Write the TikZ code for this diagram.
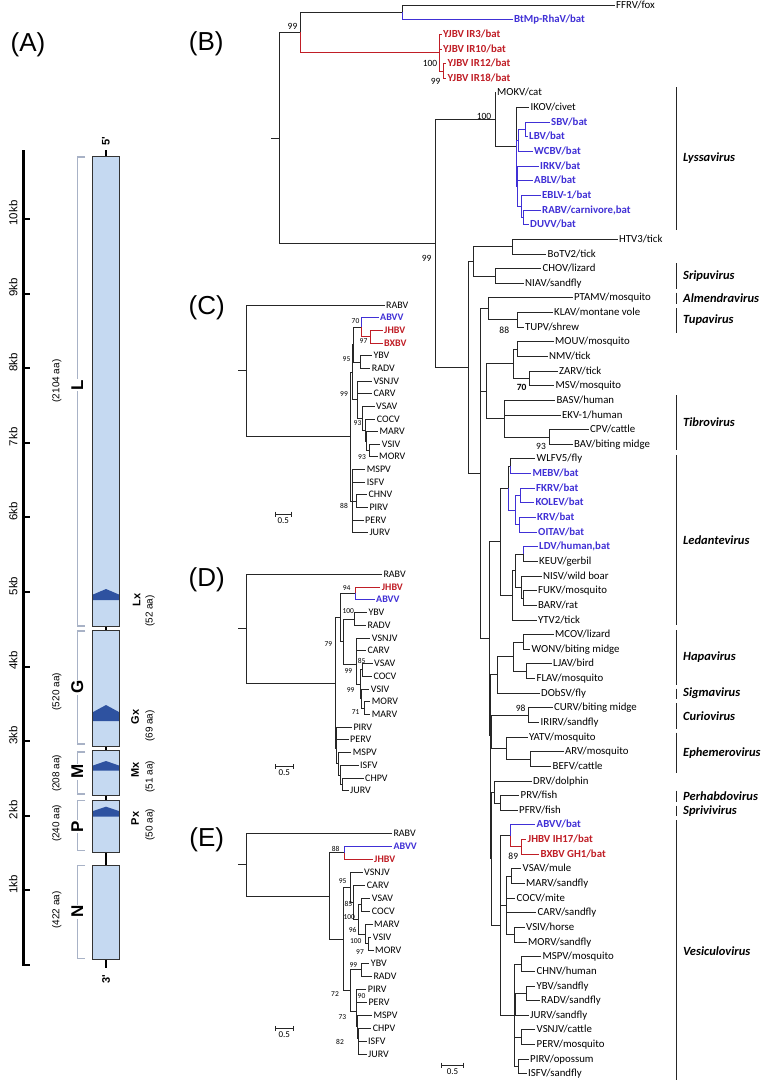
\documentclass[tikz,border=0pt]{standalone}
\usepackage{fontspec}
\setmainfont{Carlito}
\newfontfamily\arialfont{Liberation Sans}
\usepackage{tikz}
\usetikzlibrary{positioning}
\definecolor{batBlue}{RGB}{64,48,214}
\definecolor{newRed}{RGB}{192,30,38}
\definecolor{geneFill}{RGB}{197,217,241}
\definecolor{geneDark}{RGB}{46,82,160}
\definecolor{braceGray}{RGB}{168,178,198}
\newcommand{\tipB}{\fontsize{10.8}{12}\selectfont}
\newcommand{\tipS}{\fontsize{10}{11}\selectfont}

\begin{document}
\begin{tikzpicture}[
  x=1pt, y=-1pt,
  br/.style={line width=0.7pt, color=black!85},
  tip/.style={anchor=west, inner xsep=1.5pt, inner ysep=0pt,
    text height=0.62em, text depth=0pt, font=\tipB},
  tipsm/.style={tip, font=\tipS},
  batB/.style={text=batBlue, font=\tipB\bfseries},
  newB/.style={text=newRed, font=\tipB\bfseries},
  batS/.style={text=batBlue, font=\tipS\bfseries},
  newS/.style={text=newRed, font=\tipS\bfseries},
  boot/.style={inner sep=0pt, font=\fontsize{9.5}{10}\selectfont},
  bootsm/.style={inner sep=0pt, font=\fontsize{7.5}{8}\selectfont},
  clade/.style={anchor=west, inner sep=0pt,
    font=\fontsize{12.5}{14}\selectfont\bfseries\itshape},
  cbar/.style={line width=0.8pt, color=black!85},
  scaletxt/.style={inner sep=0pt, font=\fontsize{9}{10}\selectfont},
  panel/.style={inner sep=0pt, font=\arialfont\fontsize{26}{28}\selectfont},
  gene/.style={rectangle, draw=black!80, line width=0.8pt, fill=geneFill,
    inner sep=0pt, minimum width=26.6pt},
  genebrace/.style={draw=braceGray, line width=1.2pt},
  kb/.style={rotate=90, inner sep=0pt, font=\arialfont\fontsize{11.5}{12}\selectfont},
  aa/.style={rotate=90, inner sep=0pt, font=\arialfont\fontsize{10}{11}\selectfont},
  gname/.style={rotate=90, fill=white, inner sep=1pt,
    font=\arialfont\bfseries\fontsize{17}{18}\selectfont},
  xname/.style={rotate=90, inner sep=0pt,
    font=\arialfont\bfseries\fontsize{11}{12}\selectfont}
]
\useasboundingbox (0,0) rectangle (765,1082);
\fill[white] (0,0) rectangle (765,1082);

% ---------------- panel labels
\node[panel] (pA) at (28,45) {(A)};
\node[panel] (pB) at (206.3,43.3) {(B)};
\node[panel] (pC) at (206.7,308) {(C)};
\node[panel] (pD) at (206.7,580) {(D)};
\node[panel] (pE) at (206.7,840) {(E)};

% ---------------- (A) genome map
\draw[line width=2.6pt] (23.3,150) -- (23.3,965) -- (30,965);
\foreach \k in {1,...,10} {
  \draw[line width=2pt] (23.3,{965-74.6*\k}) -- (30,{965-74.6*\k});
  \node[kb] (kb\k) at (13.3,{959-74.6*\k}) {\k kb};
}
\draw[line width=2.6pt] (106,150) -- (106,968);
\node[xname] (five) at (106,141) {5'};
\node[xname] (three) at (106,979) {3'};

\node[gene, minimum height=470pt] (geneL) at (106,391.7) {};
\node[gene, minimum height=116.7pt] (geneG) at (106,688.35) {};
\node[gene, minimum height=44.3pt] (geneM) at (106,772.85) {};
\node[gene, minimum height=52.7pt] (geneP) at (106,826.35) {};
\node[gene, minimum height=94.3pt] (geneN) at (106,912.15) {};

% small ORFs
\fill[geneDark] (93.1,600) -- (93.1,594.5) -- (106,589) -- (118.9,594.5) -- (118.9,600) -- cycle;
\fill[geneDark] (93.1,721) -- (93.1,712) -- (106,705) -- (118.9,712) -- (118.9,721) -- cycle;
\fill[geneDark] (93.1,770.7) -- (93.1,765.5) -- (106,761) -- (118.9,765.5) -- (118.9,770.7) -- cycle;
\fill[geneDark] (93.1,816.7) -- (93.1,811) -- (106,806.7) -- (118.9,811) -- (118.9,816.7) -- cycle;

% brackets and gene names
\draw[genebrace] (85,157) -- (77.3,157) -- (77.3,626) -- (85,626);
\draw[genebrace] (85,631) -- (77.3,631) -- (77.3,744) -- (85,744);
\draw[genebrace] (85,752) -- (77.3,752) -- (77.3,794) -- (85,794);
\draw[genebrace] (85,800.5) -- (77.3,800.5) -- (77.3,850.7) -- (85,850.7);
\draw[genebrace] (85,865.7) -- (77.3,865.7) -- (77.3,958.3) -- (85,958.3);
\node[gname] (nmL) at (77.3,385) {L};
\node[gname] (nmG) at (77.3,687.3) {G};
\node[gname] (nmM) at (77.3,771.7) {M};
\node[gname] (nmP) at (77.3,826.7) {P};
\node[gname] (nmN) at (77.3,911.7) {N};
\node[aa] (aaL) at (56.7,381) {(2104 aa)};
\node[aa] (aaG) at (56.7,691.7) {(520 aa)};
\node[aa] (aaM) at (56.7,773.3) {(208 aa)};
\node[aa] (aaP) at (56.7,823.3) {(240 aa)};
\node[aa] (aaN) at (56.7,910) {(422 aa)};
\node[xname] (lx) at (136.7,600) {Lx};
\node[xname] (gx) at (135,716.7) {Gx};
\node[xname] (mx) at (135,770) {Mx};
\node[xname] (px) at (135,818.5) {Px};
\node[aa] (aaLx) at (150,611) {(52 aa)};
\node[aa] (aaGx) at (150,726) {(69 aa)};
\node[aa] (aaMx) at (150,776.7) {(51 aa)};
\node[aa] (aaPx) at (150,824.5) {(50 aa)};

% ---------------- (B) tips
\node[tip] (ffrv) at (614.5,5.0) {FFRV/fox};
\node[tip,batB] (btmp) at (512.5,19.6) {BtMp-RhaV/bat};
\node[tip,newB] (ir3) at (441.5,34.3) {YJBV IR3/bat};
\node[tip,newB] (ir10) at (441.5,48.9) {YJBV IR10/bat};
\node[tip,newB] (ir12) at (446,63.6) {YJBV IR12/bat};
\node[tip,newB] (ir18) at (446,78.2) {YJBV IR18/bat};
\node[tip] (mokv) at (495.5,92.8) {MOKV/cat};
\node[tip] (ikov) at (529,107.5) {IKOV/civet};
\node[tip,batB] (sbv) at (549.5,122.1) {SBV/bat};
\node[tip,batB] (lbv) at (527.5,136.8) {LBV/bat};
\node[tip,batB] (wcbv) at (532.5,151.4) {WCBV/bat};
\node[tip,batB] (irkv) at (538.5,166.0) {IRKV/bat};
\node[tip,batB] (ablv) at (532.5,180.7) {ABLV/bat};
\node[tip,batB] (eblv) at (540.5,195.3) {EBLV-1/bat};
\node[tip,batB] (rabv) at (540.5,210.0) {RABV/carnivore,bat};
\node[tip,batB] (duvv) at (528.5,224.6) {DUVV/bat};
\node[tip] (htv) at (617.5,239.2) {HTV3/tick};
\node[tip] (botv) at (546,253.9) {BoTV2/tick};
\node[tip] (chov) at (541,268.5) {CHOV/lizard};
\node[tip] (niav) at (523.5,283.2) {NIAV/sandfly};
\node[tip] (ptamv) at (572.5,297.8) {PTAMV/mosquito};
\node[tip] (klav) at (552.5,312.4) {KLAV/montane vole};
\node[tip] (tupv) at (523.5,327.1) {TUPV/shrew};
\node[tip] (mouv) at (553.5,341.7) {MOUV/mosquito};
\node[tip] (nmv) at (547.5,356.4) {NMV/tick};
\node[tip] (zarv) at (557.5,371.0) {ZARV/tick};
\node[tip] (msv) at (554,385.6) {MSV/mosquito};
\node[tip] (basv) at (555,400.3) {BASV/human};
\node[tip] (ekv) at (560.5,414.9) {EKV-1/human};
\node[tip] (cpv) at (588.5,429.6) {CPV/cattle};
\node[tip] (bav) at (572.5,444.2) {BAV/biting midge};
\node[tip] (wlfv) at (535,458.8) {WLFV5/fly};
\node[tip,batB] (mebv) at (531,473.5) {MEBV/bat};
\node[tip,batB] (fkrv) at (534.5,488.1) {FKRV/bat};
\node[tip,batB] (kolev) at (534,502.8) {KOLEV/bat};
\node[tip,batB] (krv) at (535.5,517.4) {KRV/bat};
\node[tip,batB] (oitav) at (536.5,532.0) {OITAV/bat};
\node[tip,batB] (ldv) at (537.5,546.7) {LDV/human,bat};
\node[tip] (keuv) at (537.5,561.3) {KEUV/gerbil};
\node[tip] (nisv) at (541.5,576.0) {NISV/wild boar};
\node[tip] (fukv) at (536.5,590.6) {FUKV/mosquito};
\node[tip] (barv) at (536.5,605.2) {BARV/rat};
\node[tip] (ytv) at (536.5,619.9) {YTV2/tick};
\node[tip] (mcov) at (553.5,634.5) {MCOV/lizard};
\node[tip] (wonv) at (530,649.2) {WONV/biting midge};
\node[tip] (ljav) at (551.5,663.8) {LJAV/bird};
\node[tip] (flav) at (535,678.4) {FLAV/mosquito};
\node[tip] (dobsv) at (539.5,693.1) {DObSV/fly};
\node[tip] (curv) at (552.5,707.7) {CURV/biting midge};
\node[tip] (irirv) at (539,722.4) {IRIRV/sandfly};
\node[tip] (yatv) at (527.5,737.0) {YATV/mosquito};
\node[tip] (arv) at (563.5,751.6) {ARV/mosquito};
\node[tip] (befv) at (551,766.3) {BEFV/cattle};
\node[tip] (drv) at (531.5,780.9) {DRV/dolphin};
\node[tip] (prv) at (519,795.6) {PRV/fish};
\node[tip] (pfrv) at (517.5,810.2) {PFRV/fish};
\node[tip,batB] (abvv) at (535,824.8) {ABVV/bat};
\node[tip,newB] (jhbv) at (526,839.5) {JHBV IH17/bat};
\node[tip,newB] (bxbv) at (539,854.1) {BXBV GH1/bat};
\node[tip] (vsav) at (521,868.8) {VSAV/mule};
\node[tip] (marv) at (524.5,883.4) {MARV/sandfly};
\node[tip] (cocv) at (515,898.0) {COCV/mite};
\node[tip] (carv) at (536,912.7) {CARV/sandfly};
\node[tip] (vsiv) at (524.5,927.3) {VSIV/horse};
\node[tip] (morv) at (526.5,942.0) {MORV/sandfly};
\node[tip] (mspv) at (541,956.6) {MSPV/mosquito};
\node[tip] (chnv) at (535,971.2) {CHNV/human};
\node[tip] (ybv) at (535,985.9) {YBV/sandfly};
\node[tip] (radv) at (539.5,1000.5) {RADV/sandfly};
\node[tip] (jurv) at (528.5,1015.2) {JURV/sandfly};
\node[tip] (vsnjv) at (535,1029.8) {VSNJV/cattle};
\node[tip] (perv) at (535,1044.4) {PERV/mosquito};
\node[tip] (pirv) at (528.5,1059.1) {PIRV/opossum};
\node[tip] (isfv) at (526.5,1073.7) {ISFV/sandfly};

% ---------------- (B) inner nodes
\coordinate (nRoot) at (279,138);
\coordinate (nOut) at (300,32.45);
\coordinate (nFB) at (402,12.3);
\coordinate (nYJ) at (439,52.6);
\coordinate (nYJ2) at (443,70.9);
\coordinate (nB1) at (435,243.6);
\coordinate (nMO) at (495,119.8);
\coordinate (nIK) at (516,146.8);
\coordinate (nSW) at (518,140.4);
\coordinate (nSL) at (525,129.45);
\coordinate (nIR) at (517,186.15);
\coordinate (nEB) at (521,206.3);
\coordinate (nRD) at (523,217.3);
\coordinate (nB2) at (468,367.4);
\coordinate (nB3) at (473,261.2);
\coordinate (nHB) at (512,246.55);
\coordinate (nCN) at (495,275.85);
\coordinate (nB4) at (480,473.55);
\coordinate (nPT) at (488,308.8);
\coordinate (nKT) at (517,319.75);
\coordinate (nQ) at (486,391.15);
\coordinate (nMZ) at (513,363.7);
\coordinate (nMN) at (517,349.05);
\coordinate (nZM) at (529,378.3);
\coordinate (nTib) at (504,418.6);
\coordinate (nCB) at (549,436.9);
\coordinate (nR) at (489,638.3);
\coordinate (nLed) at (500,541.65);
\coordinate (nL12) at (508,488.1);
\coordinate (nWM) at (510,466.15);
\coordinate (nFKO) at (515,510.1);
\coordinate (nFK) at (520,495.45);
\coordinate (nKO) at (519,524.7);
\coordinate (nL3) at (512.7,595.2);
\coordinate (nLN) at (515,570.5);
\coordinate (nLK) at (523,554.0);
\coordinate (nNF) at (521,586.95);
\coordinate (nFB2) at (523,597.9);
\coordinate (nS3) at (490,734.95);
\coordinate (nHS) at (497.7,674.8);
\coordinate (nHap) at (513,656.5);
\coordinate (nMW) at (523,641.85);
\coordinate (nLF) at (526,671.1);
\coordinate (nS2) at (490.7,795.1);
\coordinate (nCY) at (491.7,731.5);
\coordinate (nCI) at (528.3,715.05);
\coordinate (nYA) at (506.7,747.98);
\coordinate (nAB) at (530.7,758.95);
\coordinate (nS1) at (491.5,858.7);
\coordinate (nDP) at (494.3,791.9);
\coordinate (nPP) at (500.7,802.9);
\coordinate (nVes) at (500,925.5);
\coordinate (nAJ) at (510,835.8);
\coordinate (nJB) at (521.7,846.8);
\coordinate (nV1) at (506,905.4);
\coordinate (nVM) at (511,876.1);
\coordinate (nVMo) at (514.3,934.65);
\coordinate (nW) at (514.3,1015.15);
\coordinate (nMC) at (521.7,963.9);
\coordinate (nYRJ) at (515.7,1004.2);
\coordinate (nYR) at (526.7,993.2);
\coordinate (nVP) at (521.7,1037.1);
\coordinate (nPI) at (518.3,1066.4);
\coordinate (rootB) at (271,138);

% ---------------- (B) branches
\draw[br] (rootB) -- (nRoot);
\foreach \c in {nOut,nB1} \draw[br] (nRoot) |- (\c);
\draw[br] (nOut) |- (nFB);
\draw[br,newRed] (nOut) |- (nYJ);
\draw[br] (nFB) |- (ffrv.west);
\draw[br,batBlue] (nFB) |- (btmp.west);
\foreach \c in {ir3.west,ir10.west,nYJ2} \draw[br,newRed] (nYJ) |- (\c);
\foreach \c in {ir12.west,ir18.west} \draw[br,newRed] (nYJ2) |- (\c);
% Lyssavirus
\foreach \c in {nMO,nB2} \draw[br] (nB1) |- (\c);
\foreach \c in {mokv.west,nIK} \draw[br] (nMO) |- (\c);
\draw[br] (nIK) |- (ikov.west);
\foreach \c in {nSW,nIR} \draw[br,batBlue] (nIK) |- (\c);
\foreach \c in {nSL,wcbv.west} \draw[br,batBlue] (nSW) |- (\c);
\foreach \c in {sbv.west,lbv.west} \draw[br,batBlue] (nSL) |- (\c);
\foreach \c in {irkv.west,ablv.west,nEB} \draw[br,batBlue] (nIR) |- (\c);
\foreach \c in {eblv.west,nRD} \draw[br,batBlue] (nEB) |- (\c);
\foreach \c in {rabv.west,duvv.west} \draw[br,batBlue] (nRD) |- (\c);
% upper dimarhabdoviruses
\foreach \c in {nB3,nB4} \draw[br] (nB2) |- (\c);
\foreach \c in {nHB,nCN} \draw[br] (nB3) |- (\c);
\foreach \c in {htv.west,botv.west} \draw[br] (nHB) |- (\c);
\foreach \c in {chov.west,niav.west} \draw[br] (nCN) |- (\c);
\foreach \c in {nPT,nQ,nR} \draw[br] (nB4) |- (\c);
\foreach \c in {ptamv.west,nKT} \draw[br] (nPT) |- (\c);
\foreach \c in {klav.west,tupv.west} \draw[br] (nKT) |- (\c);
\foreach \c in {nMZ,nTib} \draw[br] (nQ) |- (\c);
\foreach \c in {nMN,nZM} \draw[br] (nMZ) |- (\c);
\foreach \c in {mouv.west,nmv.west} \draw[br] (nMN) |- (\c);
\foreach \c in {zarv.west,msv.west} \draw[br] (nZM) |- (\c);
\foreach \c in {basv.west,ekv.west,nCB} \draw[br] (nTib) |- (\c);
\foreach \c in {cpv.west,bav.west} \draw[br] (nCB) |- (\c);
% Ledantevirus
\foreach \c in {nLed,nS3} \draw[br] (nR) |- (\c);
\foreach \c in {nL12,nL3} \draw[br] (nLed) |- (\c);
\draw[br] (nL12) |- (nWM);
\draw[br,batBlue] (nL12) |- (nFKO);
\draw[br] (nWM) |- (wlfv.west);
\draw[br,batBlue] (nWM) |- (mebv.west);
\foreach \c in {nFK,nKO} \draw[br,batBlue] (nFKO) |- (\c);
\foreach \c in {fkrv.west,kolev.west} \draw[br,batBlue] (nFK) |- (\c);
\foreach \c in {krv.west,oitav.west} \draw[br,batBlue] (nKO) |- (\c);
\foreach \c in {nLN,ytv.west} \draw[br] (nL3) |- (\c);
\foreach \c in {nLK,nNF} \draw[br] (nLN) |- (\c);
\draw[br,batBlue] (nLK) |- (ldv.west);
\draw[br] (nLK) |- (keuv.west);
\foreach \c in {nisv.west,nFB2} \draw[br] (nNF) |- (\c);
\foreach \c in {fukv.west,barv.west} \draw[br] (nFB2) |- (\c);
% Hapavirus to Sprivivirus
\foreach \c in {nHS,nS2} \draw[br] (nS3) |- (\c);
\foreach \c in {nHap,dobsv.west} \draw[br] (nHS) |- (\c);
\foreach \c in {nMW,nLF} \draw[br] (nHap) |- (\c);
\foreach \c in {mcov.west,wonv.west} \draw[br] (nMW) |- (\c);
\foreach \c in {ljav.west,flav.west} \draw[br] (nLF) |- (\c);
\foreach \c in {nCY,nS1} \draw[br] (nS2) |- (\c);
\foreach \c in {nCI,nYA} \draw[br] (nCY) |- (\c);
\foreach \c in {curv.west,irirv.west} \draw[br] (nCI) |- (\c);
\foreach \c in {yatv.west,nAB} \draw[br] (nYA) |- (\c);
\foreach \c in {arv.west,befv.west} \draw[br] (nAB) |- (\c);
\foreach \c in {nDP,nVes} \draw[br] (nS1) |- (\c);
\foreach \c in {drv.west,nPP} \draw[br] (nDP) |- (\c);
\foreach \c in {prv.west,pfrv.west} \draw[br] (nPP) |- (\c);
% Vesiculovirus
\foreach \c in {nAJ,nV1,nW} \draw[br] (nVes) |- (\c);
\draw[br,batBlue] (nAJ) |- (abvv.west);
\draw[br,newRed] (nAJ) |- (nJB);
\foreach \c in {jhbv.west,bxbv.west} \draw[br,newRed] (nJB) |- (\c);
\foreach \c in {nVM,cocv.west,carv.west,nVMo} \draw[br] (nV1) |- (\c);
\foreach \c in {vsav.west,marv.west} \draw[br] (nVM) |- (\c);
\foreach \c in {vsiv.west,morv.west} \draw[br] (nVMo) |- (\c);
\foreach \c in {nMC,nYRJ,nVP,nPI} \draw[br] (nW) |- (\c);
\foreach \c in {mspv.west,chnv.west} \draw[br] (nMC) |- (\c);
\foreach \c in {nYR,jurv.west} \draw[br] (nYRJ) |- (\c);
\foreach \c in {ybv.west,radv.west} \draw[br] (nYR) |- (\c);
\foreach \c in {vsnjv.west,perv.west} \draw[br] (nVP) |- (\c);
\foreach \c in {pirv.west,isfv.west} \draw[br] (nPI) |- (\c);

% (B) bootstrap values
\node[boot] (bsB1) at (292.5,26) {99};
\node[boot] (bsB2) at (430,63.3) {100};
\node[boot] (bsB3) at (435.6,81) {99};
\node[boot] (bsB4) at (484,116.7) {100};
\node[boot] (bsB5) at (426.7,258.3) {99};
\node[boot] (bsB6) at (504.3,330) {88};
\node[boot,font=\fontsize{9.5}{10}\selectfont\bfseries] (bsB7) at (521.7,387.3) {70};
\node[boot] (bsB8) at (541,446.7) {93};
\node[boot] (bsB9) at (520.7,708.3) {98};
\node[boot] (bsB10) at (513.3,856.7) {89};

% (B) genus brackets
\foreach \ya/\yb/\yl/\nm/\txt in {
    87/230/158/gLys/Lyssavirus,
    263.3/289.3/276/gSri/Sripuvirus,
    292.5/304/298/gAlm/Almendravirus,
    308.3/333.3/320/gTup/Tupavirus,
    395/450/422.3/gTib/Tibrovirus,
    455/625/540/gLed/Ledantevirus,
    630/685/656.7/gHap/Hapavirus,
    688.5/698.5/693.3/gSig/Sigmavirus,
    703.3/729.3/716/gCur/Curiovirus,
    732.7/773.3/752.7/gEph/Ephemerovirus,
    790.7/801.7/796/gPer/Perhabdovirus,
    805.7/816/810.7/gSpr/Sprivivirus,
    820/1080/950.7/gVes/Vesiculovirus} {
  \draw[cbar] (676,\ya) -- (676,\yb);
  \node[clade] (\nm) at (683,\yl) {\txt};
}

% (B) scale bar
\coordinate (sbB) at (452.5,1065);
\draw[br] (441.7,1062.5) -- (441.7,1067.5) (441.7,1065) -- (463.3,1065) (463.3,1062.5) -- (463.3,1067.5);
\node[scaletxt, below=3pt of sbB] (sB) {0.5};

% ---------------- (C) G protein tree
\node[tipsm] (cRabv) at (384.5,305.0) {RABV};
\node[tipsm,batS] (cAbvv) at (378.5,317.6) {ABVV};
\node[tipsm,newS] (cJhbv) at (382.5,330.3) {JHBV};
\node[tipsm,newS] (cBxbv) at (382.5,343.0) {BXBV};
\node[tipsm] (cYbv) at (371.8,355.6) {YBV};
\node[tipsm] (cRadv) at (370.2,368.3) {RADV};
\node[tipsm] (cVsnjv) at (371.8,380.9) {VSNJV};
\node[tipsm] (cCarv) at (371.8,393.6) {CARV};
\node[tipsm] (cVsav) at (374.5,406.2) {VSAV};
\node[tipsm] (cCocv) at (375.2,418.9) {COCV};
\node[tipsm] (cMarv) at (377.8,431.5) {MARV};
\node[tipsm] (cVsiv) at (380.2,444.2) {VSIV};
\node[tipsm] (cMorv) at (377.5,456.8) {MORV};
\node[tipsm] (cMspv) at (365.2,469.5) {MSPV};
\node[tipsm] (cIsfv) at (365.2,482.1) {ISFV};
\node[tipsm] (cChnv) at (366.8,494.8) {CHNV};
\node[tipsm] (cPirv) at (367.8,507.4) {PIRV};
\node[tipsm] (cPerv) at (363.5,520.1) {PERV};
\node[tipsm] (cJurv) at (367.8,532.7) {JURV};

\coordinate (cRoot) at (246,370.8);
\coordinate (c3) at (350.7,436.55);
\coordinate (c2) at (352,372);
\coordinate (c1) at (353.3,344.5);
\coordinate (cAJ) at (361.7,327.1);
\coordinate (cJB) at (370,336.65);
\coordinate (cYR) at (360,361.95);
\coordinate (cCA) at (357.7,399.5);
\coordinate (cVS) at (362.7,418.1);
\coordinate (cCO) at (365,429.95);
\coordinate (cMA) at (366,441);
\coordinate (cVM) at (369.3,450.5);
\coordinate (cMJ) at (352.7,501.1);
\coordinate (cCP) at (356.7,501.1);
\coordinate (rootC) at (238.3,370.8);

\draw[br] (rootC) -- (cRoot);
\foreach \c in {cRabv.west,c3} \draw[br] (cRoot) |- (\c);
\foreach \c in {c2,cMJ} \draw[br] (c3) |- (\c);
\foreach \c in {c1,cCA} \draw[br] (c2) |- (\c);
\foreach \c in {cAJ,cYR} \draw[br] (c1) |- (\c);
\draw[br,batBlue] (cAJ) |- (cAbvv.west);
\draw[br,newRed] (cAJ) |- (cJB);
\foreach \c in {cJhbv.west,cBxbv.west} \draw[br,newRed] (cJB) |- (\c);
\foreach \c in {cYbv.west,cRadv.west} \draw[br] (cYR) |- (\c);
\foreach \c in {cVsnjv.west,cCarv.west,cVS} \draw[br] (cCA) |- (\c);
\foreach \c in {cVsav.west,cCO} \draw[br] (cVS) |- (\c);
\foreach \c in {cCocv.west,cMA} \draw[br] (cCO) |- (\c);
\foreach \c in {cMarv.west,cVM} \draw[br] (cMA) |- (\c);
\foreach \c in {cVsiv.west,cMorv.west} \draw[br] (cVM) |- (\c);
\foreach \c in {cMspv.west,cIsfv.west,cCP,cPerv.west,cJurv.west} \draw[br] (cMJ) |- (\c);
\foreach \c in {cChnv.west,cPirv.west} \draw[br] (cCP) |- (\c);

\node[bootsm] (bsC1) at (355.5,321) {70};
\node[bootsm] (bsC2) at (363.5,341.5) {97};
\node[bootsm] (bsC3) at (346.5,359.5) {95};
\node[bootsm] (bsC4) at (344,394) {99};
\node[bootsm] (bsC5) at (357.5,423.5) {93};
\node[bootsm] (bsC6) at (362,457) {93};
\node[bootsm] (bsC7) at (344,506) {88};

\coordinate (sbC) at (283.3,514);
\draw[br] (275,511.5) -- (275,516.5) (275,514) -- (291.7,514) (291.7,511.5) -- (291.7,516.5);
\node[scaletxt, below=3pt of sbC] (sC) {0.5};

% ---------------- (D) M protein tree
\node[tipsm] (dRabv) at (381.8,574.3) {RABV};
\node[tipsm,newS] (dJhbv) at (380.2,587.0) {JHBV};
\node[tipsm,batS] (dAbvv) at (374.5,599.8) {ABVV};
\node[tipsm] (dYbv) at (366.8,612.5) {YBV};
\node[tipsm] (dRadv) at (365.8,625.2) {RADV};
\node[tipsm] (dVsnjv) at (370.2,638.0) {VSNJV};
\node[tipsm] (dCarv) at (365.8,650.7) {CARV};
\node[tipsm] (dVsav) at (372.5,663.4) {VSAV};
\node[tipsm] (dCocv) at (371.8,676.2) {COCV};
\node[tipsm] (dVsiv) at (369.2,688.9) {VSIV};
\node[tipsm] (dMorv) at (370.2,701.6) {MORV};
\node[tipsm] (dMarv) at (370.2,714.4) {MARV};
\node[tipsm] (dPirv) at (351.8,727.1) {PIRV};
\node[tipsm] (dPerv) at (348.5,739.8) {PERV};
\node[tipsm] (dMspv) at (351.2,752.6) {MSPV};
\node[tipsm] (dIsfv) at (358.5,765.3) {ISFV};
\node[tipsm] (dChpv) at (363.5,778.0) {CHPV};
\node[tipsm] (dJurv) at (348.5,790.8) {JURV};

\coordinate (dRoot) at (246,628.65);
\coordinate (dIn) at (335,683);
\coordinate (dUp) at (340.7,617.45);
\coordinate (dJA) at (355,593.4);
\coordinate (dY) at (343.3,641.5);
\coordinate (dYR) at (354,618.85);
\coordinate (dCS) at (356,664.2);
\coordinate (dVC) at (356.7,644.35);
\coordinate (dSV) at (360.3,684.1);
\coordinate (dSC) at (362.7,669.8);
\coordinate (dVI) at (361.7,698.45);
\coordinate (dMM) at (364,708);
\coordinate (dLow) at (336,748.6);
\coordinate (dPP) at (336.7,733.45);
\coordinate (dMI) at (338.7,763.7);
\coordinate (dIC) at (340,774.85);
\coordinate (dCJ) at (342.7,784.4);
\coordinate (rootD) at (238.3,628.65);

\draw[br] (rootD) -- (dRoot);
\foreach \c in {dRabv.west,dIn} \draw[br] (dRoot) |- (\c);
\foreach \c in {dUp,dLow} \draw[br] (dIn) |- (\c);
\foreach \c in {dJA,dY} \draw[br] (dUp) |- (\c);
\draw[br,newRed] (dJA) |- (dJhbv.west);
\draw[br,batBlue] (dJA) |- (dAbvv.west);
\foreach \c in {dYR,dCS} \draw[br] (dY) |- (\c);
\foreach \c in {dYbv.west,dRadv.west} \draw[br] (dYR) |- (\c);
\foreach \c in {dVC,dSV} \draw[br] (dCS) |- (\c);
\foreach \c in {dVsnjv.west,dCarv.west} \draw[br] (dVC) |- (\c);
\foreach \c in {dSC,dVI} \draw[br] (dSV) |- (\c);
\foreach \c in {dVsav.west,dCocv.west} \draw[br] (dSC) |- (\c);
\foreach \c in {dVsiv.west,dMM} \draw[br] (dVI) |- (\c);
\foreach \c in {dMorv.west,dMarv.west} \draw[br] (dMM) |- (\c);
\foreach \c in {dPP,dMI} \draw[br] (dLow) |- (\c);
\foreach \c in {dPirv.west,dPerv.west} \draw[br] (dPP) |- (\c);
\foreach \c in {dMspv.west,dIC} \draw[br] (dMI) |- (\c);
\foreach \c in {dIsfv.west,dCJ} \draw[br] (dIC) |- (\c);
\foreach \c in {dChpv.west,dJurv.west} \draw[br] (dCJ) |- (\c);

\node[bootsm] (bsD1) at (346.7,588.3) {94};
\node[bootsm] (bsD2) at (348.3,610.7) {100};
\node[bootsm] (bsD3) at (328.3,644) {79};
\node[bootsm] (bsD4) at (361.7,660.7) {85};
\node[bootsm] (bsD5) at (348.3,670.7) {99};
\node[bootsm] (bsD6) at (350.7,690) {99};
\node[bootsm] (bsD7) at (355.7,711.7) {71};

\coordinate (sbD) at (284.2,766.7);
\draw[br] (275,764.2) -- (275,769.2) (275,766.7) -- (293.3,766.7) (293.3,764.2) -- (293.3,769.2);
\node[scaletxt, below=3pt of sbD] (sD) {0.5};

% ---------------- (E) N protein tree
\node[tipsm] (eRabv) at (391.8,833.3) {RABV};
\node[tipsm,batS] (eAbvv) at (391.8,846.3) {ABVV};
\node[tipsm,newS] (eJhbv) at (372.5,859.3) {JHBV};
\node[tipsm] (eVsnjv) at (362.5,872.3) {VSNJV};
\node[tipsm] (eCarv) at (365.2,885.3) {CARV};
\node[tipsm] (eVsav) at (370.2,898.3) {VSAV};
\node[tipsm] (eCocv) at (370.2,911.3) {COCV};
\node[tipsm] (eMarv) at (372.5,924.3) {MARV};
\node[tipsm] (eVsiv) at (371.2,937.3) {VSIV};
\node[tipsm] (eMorv) at (373.5,950.3) {MORV};
\node[tipsm] (eYbv) at (369.2,963.3) {YBV};
\node[tipsm] (eRadv) at (371.8,976.3) {RADV};
\node[tipsm] (ePirv) at (366.2,989.3) {PIRV};
\node[tipsm] (ePerv) at (366.8,1002.3) {PERV};
\node[tipsm] (eMspv) at (371.8,1015.3) {MSPV};
\node[tipsm] (eChpv) at (371.2,1028.3) {CHPV};
\node[tipsm] (eIsfv) at (366.5,1041.3) {ISFV};
\node[tipsm] (eJurv) at (366.5,1054.3) {JURV};

\coordinate (eRoot) at (246,864.6);
\coordinate (eIn) at (329,895.85);
\coordinate (eAJ) at (344.3,852.8);
\coordinate (eG1) at (343.3,938.9);
\coordinate (eVS) at (350,887.3);
\coordinate (eCA) at (353.5,902.35);
\coordinate (eX) at (358.5,919.4);
\coordinate (eVC) at (361.7,904.8);
\coordinate (eMA) at (365.5,934.05);
\coordinate (eVM) at (368.3,943.8);
\coordinate (eG2) at (350,990.5);
\coordinate (eYR) at (361.7,969.8);
\coordinate (eG3) at (356,1011.25);
\coordinate (ePP) at (356.7,995.8);
\coordinate (eMC) at (357.5,1026.7);
\coordinate (eCJ) at (358,1038.05);
\coordinate (eIJ) at (358.5,1047.8);
\coordinate (rootE) at (238.3,864.6);

\draw[br] (rootE) -- (eRoot);
\foreach \c in {eRabv.west,eIn} \draw[br] (eRoot) |- (\c);
\foreach \c in {eAJ,eG1} \draw[br] (eIn) |- (\c);
\draw[br,batBlue] (eAJ) |- (eAbvv.west);
\draw[br,newRed] (eAJ) |- (eJhbv.west);
\foreach \c in {eVS,eG2} \draw[br] (eG1) |- (\c);
\foreach \c in {eVsnjv.west,eCA} \draw[br] (eVS) |- (\c);
\foreach \c in {eCarv.west,eX} \draw[br] (eCA) |- (\c);
\foreach \c in {eVC,eMA} \draw[br] (eX) |- (\c);
\foreach \c in {eVsav.west,eCocv.west} \draw[br] (eVC) |- (\c);
\foreach \c in {eMarv.west,eVM} \draw[br] (eMA) |- (\c);
\foreach \c in {eVsiv.west,eMorv.west} \draw[br] (eVM) |- (\c);
\foreach \c in {eYR,eG3} \draw[br] (eG2) |- (\c);
\foreach \c in {eYbv.west,eRadv.west} \draw[br] (eYR) |- (\c);
\foreach \c in {ePP,eMC} \draw[br] (eG3) |- (\c);
\foreach \c in {ePirv.west,ePerv.west} \draw[br] (ePP) |- (\c);
\foreach \c in {eMspv.west,eCJ} \draw[br] (eMC) |- (\c);
\foreach \c in {eChpv.west,eIJ} \draw[br] (eCJ) |- (\c);
\foreach \c in {eIsfv.west,eJurv.west} \draw[br] (eIJ) |- (\c);

\node[bootsm] (bsE1) at (335.7,849) {88};
\node[bootsm] (bsE2) at (342.7,880.7) {95};
\node[bootsm] (bsE3) at (348.3,904) {85};
\node[bootsm] (bsE4) at (349.3,916.7) {100};
\node[bootsm] (bsE5) at (352.7,930) {96};
\node[bootsm] (bsE6) at (355.7,940.7) {100};
\node[bootsm] (bsE7) at (360,951.7) {97};
\node[bootsm] (bsE8) at (353.3,965) {99};
\node[bootsm] (bsE9) at (335,994) {72};
\node[bootsm,anchor=west] (bsE10) at (357.5,996) {90};
\node[bootsm] (bsE11) at (342.3,1016.7) {73};
\node[bootsm] (bsE12) at (340,1041.5) {82};

\coordinate (sbE) at (284.2,1028.3);
\draw[br] (275,1025.8) -- (275,1030.8) (275,1028.3) -- (293.3,1028.3) (293.3,1025.8) -- (293.3,1030.8);
\node[scaletxt, below=3pt of sbE] (sE) {0.5};

\end{tikzpicture}
\end{document}
